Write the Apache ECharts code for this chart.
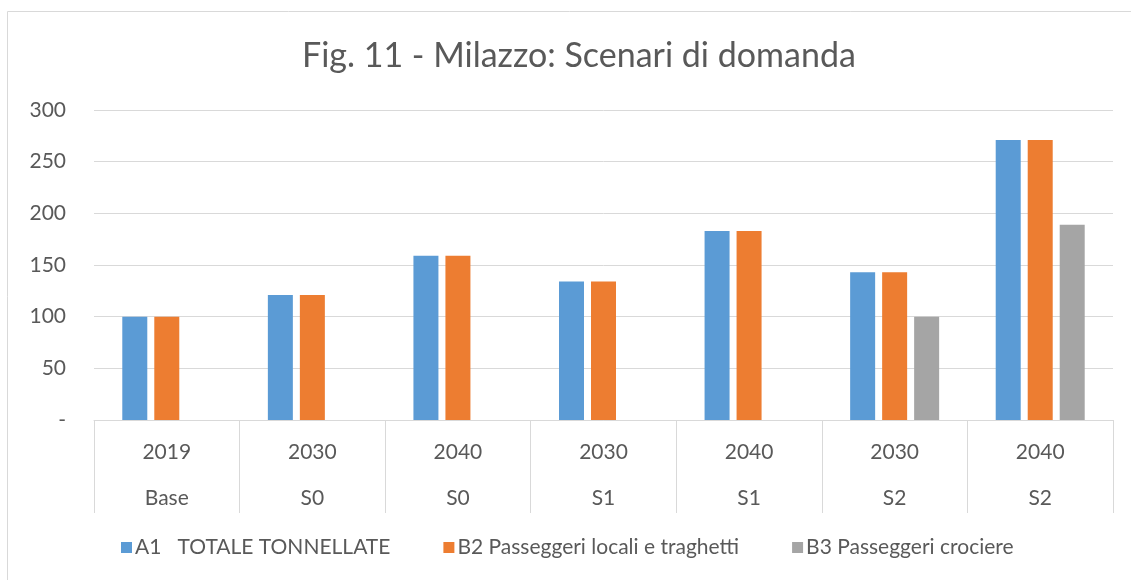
<!DOCTYPE html>
<html>
<head>
<meta charset="utf-8">
<script src="https://cdn.jsdelivr.net/npm/echarts@6/dist/echarts.min.js"></script>
<style>
html,body{margin:0;padding:0;background:#fff;}
#chart{width:1131px;height:580px;}
</style>
</head>
<body>
<div id="chart"></div>
<script>
var years = ['2019','2030','2040','2030','2040','2030','2040'];
var scenarios = ['Base','S0','S0','S1','S1','S2','S2'];
var seriesNames = ['A1   TOTALE TONNELLATE','B2 Passeggeri locali e traghetti','B3 Passeggeri crociere'];
var a1Values = [100,121,159,134,183,143,271];
var b2Values = [100,121,159,134,183,143,271];
var b3Values = [null,null,null,null,null,100,189];
var yTicks = {min:0, max:300, interval:50};

var FONT = 'Lato';
var TXT = '#595959';
var categories = years.map(function(y,i){ return y + '|' + scenarios[i] + '|' + i; });

var chart = echarts.init(document.getElementById('chart'));
function mkSeries(name, data, color){
  return {
    name: name, type: 'bar', data: data,
    barWidth: 25, barGap: '28%',
    itemStyle: {color: color},
    emphasis: {disabled: true}
  };
}
chart.setOption({
  animation: false,
  textStyle: {fontFamily: FONT},
  title: {
    text: 'Fig. 11 - Milazzo: Scenari di domanda',
    left: 297, top: 34,
    textStyle: {fontFamily: FONT, fontSize: 34, fontWeight: 'normal', color: TXT}
  },
  graphic: [{
    type: 'rect', silent: true, z: -1,
    shape: {x: 7.5, y: 11.5, width: 1140, height: 590},
    style: {fill: 'none', stroke: '#d9d9d9', lineWidth: 1}
  }],
  legend: {
    bottom: 17, left: 116,
    icon: 'rect', itemWidth: 11, itemHeight: 11, itemGap: 53,
    textStyle: {fontFamily: FONT, fontSize: 21, color: TXT, padding: [0,0,0,-2]},
    data: seriesNames
  },
  grid: {left: 94, right: 18, top: 110, bottom: 160, containLabel: false},
  xAxis: {
    type: 'category', data: categories,
    axisLine: {show: true, lineStyle: {color: '#d9d9d9', width: 1}},
    axisTick: {show: true, length: 93, interval: 0, lineStyle: {color: '#d9d9d9', width: 1}},
    axisLabel: {
      interval: 0, margin: 9,
      formatter: function(v){ var p = v.split('|'); return '{a|' + p[0] + '}\n{b|' + p[1] + '}'; },
      rich: {
        a: {fontFamily: FONT, fontSize: 21, color: TXT, lineHeight: 46},
        b: {fontFamily: FONT, fontSize: 21, color: TXT, lineHeight: 46}
      }
    }
  },
  yAxis: {
    type: 'value', min: yTicks.min, max: yTicks.max, interval: yTicks.interval,
    axisLine: {show: false}, axisTick: {show: false},
    splitLine: {lineStyle: {color: '#d9d9d9', width: 1}},
    axisLabel: {
      margin: 28, fontFamily: FONT, fontSize: 21, color: TXT,
      formatter: function(v){ return v === 0 ? '-' : String(v); }
    }
  },
  series: [
    mkSeries(seriesNames[0], a1Values, '#5B9BD5'),
    mkSeries(seriesNames[1], b2Values, '#ED7D31'),
    mkSeries(seriesNames[2], b3Values, '#A5A5A5')
  ]
});
</script>
</body>
</html>
